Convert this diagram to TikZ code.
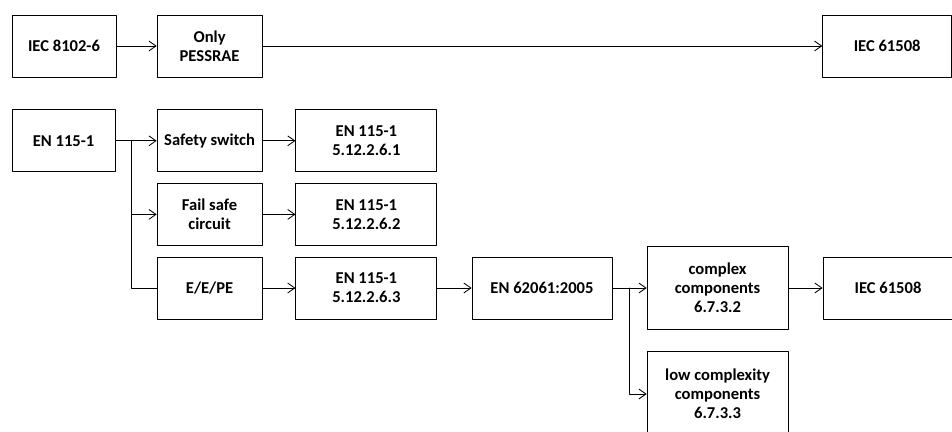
\documentclass[tikz,border=0pt]{standalone}
\usepackage{fontspec}
\setmainfont{Carlito}
\usetikzlibrary{arrows.meta}

\begin{document}
\begin{tikzpicture}[line cap=round,line join=round,x=1.0cm,y=1.0cm,
	>={Straight Barb[length=5pt,width=7pt]},
	box/.style={draw,line width=0.6pt,minimum width=2.625cm,minimum height=1.55cm,
		align=center,inner sep=1pt,font=\bfseries\fontsize{11.8}{13.5}\selectfont},
	widebox/.style={box,minimum width=3.525cm},
	link/.style={line width=0.6pt}]
	\useasboundingbox (0,0) rectangle (23.8,-10.8);
	% top row
	\node[box,minimum width=2.6cm] (iec8102) at (1.6,-1.15) {IEC 8102-6};
	\node[box] (pessrae) at (5.24,-1.15) {Only\\PESSRAE};
	\node[box,minimum width=3.225cm] (iectop) at (22.18,-1.15) {IEC 61508};
	% EN 115-1 tree
	\node[box,minimum width=2.575cm] (en115) at (1.59,-3.52) {EN 115-1};
	\node[box] (safety) at (5.24,-3.52) {Safety switch};
	\node[box] (failsafe) at (5.24,-5.36) {Fail safe\\circuit};
	\node[box] (eepe) at (5.24,-7.2) {E/E/PE};
	\node[widebox] (clausea) at (9.16,-3.52) {EN 115-1\\5.12.2.6.1};
	\node[widebox] (clauseb) at (9.16,-5.36) {EN 115-1\\5.12.2.6.2};
	\node[widebox] (clausec) at (9.16,-7.2) {EN 115-1\\5.12.2.6.3};
	\node[box,minimum width=3.5cm] (en62061) at (13.55,-7.2) {EN 62061:2005};
	\node[widebox,minimum height=2.075cm] (complex) at (17.94,-7.2) {complex\\components\\6.7.3.2};
	\node[box,minimum width=3.25cm] (iecbot) at (22.2,-7.2) {IEC 61508};
	\node[widebox,minimum height=2.15cm] (lowcx) at (17.94,-9.85) {low complexity\\components\\6.7.3.3};
	\coordinate (split) at (3.275,-3.52);
	\coordinate (splitb) at (15.725,-7.2);
	% connectors
	\draw[link,->] (iec8102) -- (pessrae);
	\draw[link,->] (pessrae) -- (iectop);
	\draw[link,->] (en115) -- (safety);
	\draw[link,->] (split) |- (failsafe);
	\draw[link] (split) |- (eepe);
	\draw[link,->] (safety) -- (clausea);
	\draw[link,->] (failsafe) -- (clauseb);
	\draw[link,->] (eepe) -- (clausec);
	\draw[link,->] (clausec) -- (en62061);
	\draw[link,->] (en62061) -- (complex);
	\draw[link,->] (splitb) |- (lowcx);
	\draw[link,->] (complex) -- (iecbot);
\end{tikzpicture}
\end{document}
